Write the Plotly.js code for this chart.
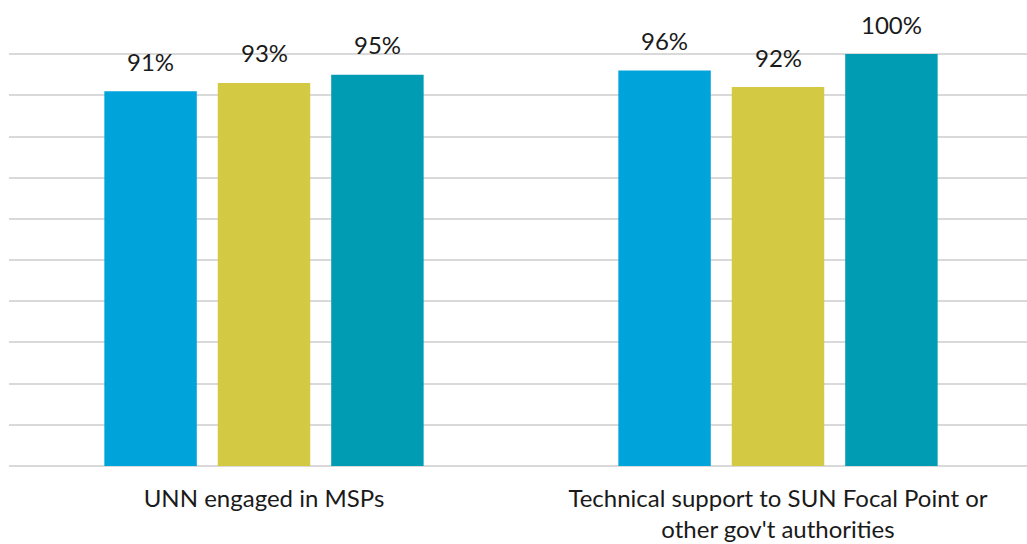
<!DOCTYPE html>
<html>
<head>
<meta charset="utf-8">
<script src="https://cdn.plot.ly/plotly-3.0.1.min.js"></script>
<style>
  html, body { margin: 0; padding: 0; background: #ffffff; }
  #chart { width: 1027px; height: 544px; }
</style>
</head>
<body>
<div id="chart"></div>
<script>
// Categories along the x axis
const categories = [
  "UNN engaged in MSPs",
  "Technical support to SUN Focal Point or<br>other gov't authorities"
];

// Three series, shares as fractions of 1
const seriesA = [0.91, 0.96];
const seriesB = [0.93, 0.92];
const seriesC = [0.95, 1.00];

const seriesValues = [seriesA, seriesB, seriesC];
const seriesColors = ["#00A3DA", "#D3C942", "#009CB3"];

const barGap = 0.338;
const barGroupGap = 0.185;
const slot = (1 - barGap) / seriesValues.length;

const traces = seriesValues.map((vals, i) => ({
  type: "bar",
  x: categories,
  y: vals,
  marker: { color: seriesColors[i], line: { width: 0 } },
  hoverinfo: "skip",
  showlegend: false
}));

// Value labels above each bar
const annotations = [];
seriesValues.forEach((vals, i) => {
  vals.forEach((v, j) => {
    annotations.push({
      x: j + (i - (seriesValues.length - 1) / 2) * slot,
      xref: "x",
      y: v,
      yref: "y",
      text: Math.round(v * 100) + "%",
      showarrow: false,
      yanchor: "middle",
      xanchor: "center",
      yshift: 30,
      font: { family: "Lato, 'Open Sans', sans-serif", size: 24, color: "#1a1a1a" }
    });
  });
});

const layout = {
  width: 1027,
  height: 544,
  margin: { l: 9, r: 0, t: 50, b: 78 },
  paper_bgcolor: "#ffffff",
  plot_bgcolor: "#ffffff",
  barmode: "group",
  bargap: barGap,
  bargroupgap: barGroupGap,
  font: { family: "Lato, 'Open Sans', sans-serif", color: "#1a1a1a" },
  xaxis: {
    type: "category",
    range: [-0.4961, -0.4961 + 1018 / 514],
    showgrid: false,
    zeroline: false,
    showline: false,
    ticks: "",
    ticklabelstandoff: 16,
    tickfont: { family: "Lato, 'Open Sans', sans-serif", size: 24, color: "#1a1a1a" }
  },
  yaxis: {
    range: [0, 1.01],
    dtick: 0.1,
    tick0: 0,
    showticklabels: false,
    showgrid: true,
    gridcolor: "#D9D9D9",
    gridwidth: 2,
    zeroline: true,
    zerolinecolor: "#D9D9D9",
    zerolinewidth: 2,
    showline: false,
    fixedrange: true
  },
  annotations: annotations
};

Plotly.newPlot("chart", traces, layout, { displayModeBar: false, staticPlot: true });
</script>
</body>
</html>
